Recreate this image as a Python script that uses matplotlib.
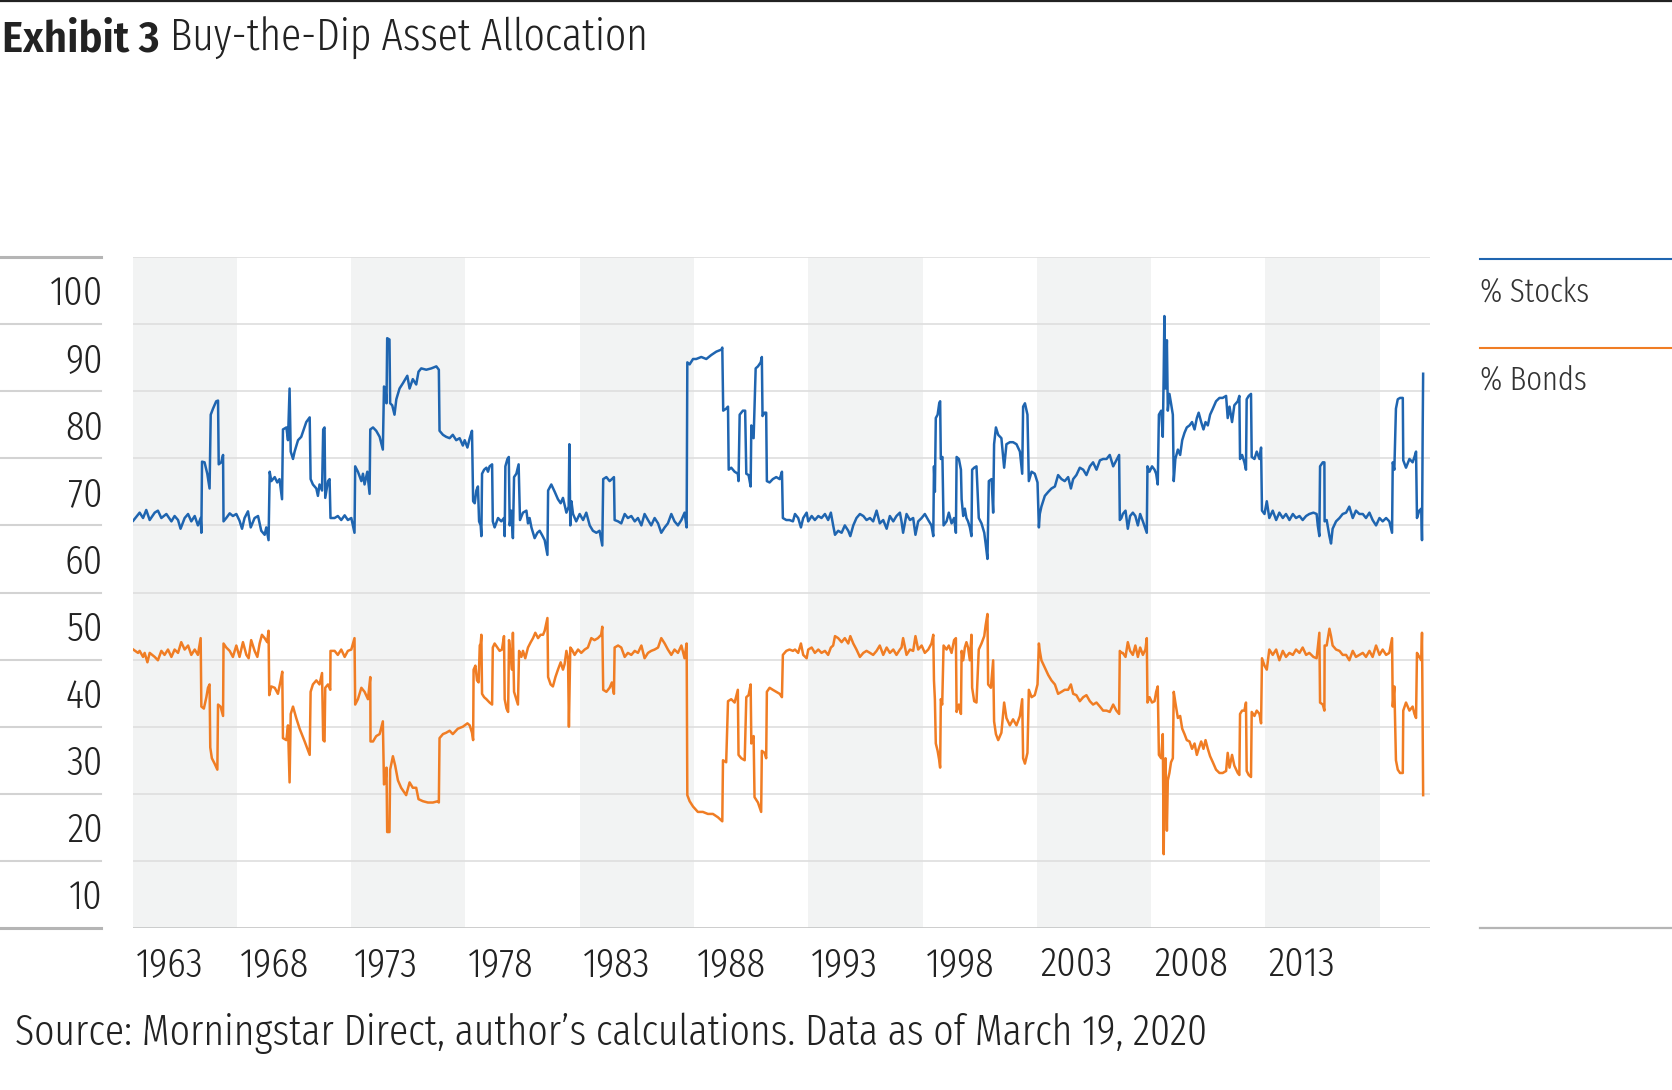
import matplotlib
matplotlib.use("Agg")
import matplotlib.pyplot as plt
from matplotlib import font_manager
from matplotlib.font_manager import FontProperties
from matplotlib.lines import Line2D
import matplotlib.transforms as mtransforms

# values (decimal years, % of portfolio)
stock_years = [
    1963.47, 1963.75, 1963.90, 1964.04, 1964.19, 1964.41, 1964.55, 1964.70, 1964.92, 1965.14,
    1965.28, 1965.43, 1965.54, 1965.72, 1965.87, 1966.01, 1966.16, 1966.30, 1966.42, 1966.45,
    1966.48, 1966.59, 1966.71, 1966.81, 1966.86, 1966.96, 1967.10, 1967.18, 1967.21, 1967.32,
    1967.40, 1967.42, 1967.54, 1967.69, 1967.83, 1967.98, 1968.12, 1968.23, 1968.34, 1968.49,
    1968.61, 1968.78, 1968.93, 1969.07, 1969.22, 1969.29, 1969.39, 1969.44, 1969.51, 1969.66,
    1969.77, 1969.87, 1969.98, 1970.02, 1970.17, 1970.24, 1970.31, 1970.36, 1970.46, 1970.53,
    1970.68, 1970.82, 1971.04, 1971.19, 1971.23, 1971.33, 1971.48, 1971.55, 1971.62, 1971.73,
    1971.78, 1971.84, 1971.87, 1971.99, 1972.06, 1972.10, 1972.28, 1972.42, 1972.57, 1972.72,
    1972.86, 1973.01, 1973.15, 1973.18, 1973.30, 1973.45, 1973.52, 1973.59, 1973.71, 1973.81,
    1973.84, 1973.96, 1974.10, 1974.25, 1974.39, 1974.44, 1974.51, 1974.55, 1974.58, 1974.68,
    1974.71, 1974.80, 1974.90, 1974.98, 1975.12, 1975.27, 1975.46, 1975.56, 1975.70, 1975.85,
    1975.95, 1976.07, 1976.29, 1976.51, 1976.73, 1976.84, 1976.87, 1977.02, 1977.16, 1977.31,
    1977.45, 1977.60, 1977.75, 1977.89, 1977.97, 1978.09, 1978.19, 1978.29, 1978.34, 1978.41,
    1978.48, 1978.55, 1978.60, 1978.67, 1978.70, 1978.73, 1978.82, 1978.92, 1978.99, 1979.06,
    1979.17, 1979.20, 1979.28, 1979.43, 1979.57, 1979.69, 1979.72, 1979.75, 1979.84, 1979.90,
    1979.94, 1980.01, 1980.06, 1980.08, 1980.13, 1980.23, 1980.33, 1980.39, 1980.52, 1980.67,
    1980.74, 1980.81, 1980.89, 1980.96, 1981.03, 1981.15, 1981.25, 1981.35, 1981.47, 1981.59,
    1981.62, 1981.76, 1981.91, 1982.05, 1982.17, 1982.27, 1982.42, 1982.52, 1982.55, 1982.59,
    1982.64, 1982.71, 1982.85, 1983.00, 1983.15, 1983.29, 1983.44, 1983.58, 1983.73, 1983.87,
    1983.99, 1984.03, 1984.17, 1984.31, 1984.41, 1984.50, 1984.53, 1984.68, 1984.82, 1984.97,
    1985.11, 1985.26, 1985.41, 1985.55, 1985.70, 1985.84, 1985.99, 1986.13, 1986.28, 1986.43,
    1986.57, 1986.72, 1986.86, 1987.01, 1987.15, 1987.30, 1987.45, 1987.59, 1987.68, 1987.71,
    1987.81, 1987.96, 1988.10, 1988.32, 1988.54, 1988.76, 1988.98, 1989.20, 1989.24, 1989.28,
    1989.41, 1989.49, 1989.52, 1989.63, 1989.78, 1989.92, 1989.95, 1990.00, 1990.14, 1990.24,
    1990.29, 1990.39, 1990.48, 1990.51, 1990.61, 1990.70, 1990.80, 1990.92, 1990.97, 1991.00,
    1991.09, 1991.16, 1991.19, 1991.31, 1991.45, 1991.60, 1991.75, 1991.85, 1991.89, 1992.04,
    1992.18, 1992.33, 1992.42, 1992.56, 1992.68, 1992.78, 1992.93, 1993.00, 1993.15, 1993.29,
    1993.44, 1993.58, 1993.73, 1993.87, 1993.99, 1994.09, 1994.17, 1994.31, 1994.46, 1994.60,
    1994.75, 1994.84, 1994.97, 1995.11, 1995.26, 1995.41, 1995.55, 1995.70, 1995.84, 1995.99,
    1996.13, 1996.28, 1996.43, 1996.57, 1996.72, 1996.86, 1997.01, 1997.08, 1997.15, 1997.30,
    1997.45, 1997.59, 1997.69, 1997.81, 1997.96, 1998.10, 1998.25, 1998.39, 1998.47, 1998.50,
    1998.54, 1998.58, 1998.66, 1998.73, 1998.77, 1998.80, 1998.87, 1998.92, 1999.05, 1999.15,
    1999.27, 1999.38, 1999.46, 1999.49, 1999.59, 1999.68, 1999.71, 1999.78, 1999.85, 1999.92,
    1999.99, 2000.07, 2000.14, 2000.17, 2000.26, 2000.36, 2000.41, 2000.46, 2000.58, 2000.70,
    2000.76, 2000.84, 2000.90, 2001.02, 2001.09, 2001.13, 2001.21, 2001.31, 2001.45, 2001.57,
    2001.67, 2001.82, 2001.96, 2002.11, 2002.26, 2002.36, 2002.40, 2002.48, 2002.59, 2002.65,
    2002.77, 2002.91, 2003.03, 2003.09, 2003.13, 2003.20, 2003.35, 2003.50, 2003.64, 2003.79,
    2003.93, 2004.08, 2004.22, 2004.37, 2004.49, 2004.59, 2004.73, 2004.88, 2005.03, 2005.17,
    2005.32, 2005.46, 2005.61, 2005.76, 2005.90, 2006.05, 2006.19, 2006.34, 2006.48, 2006.60,
    2006.63, 2006.70, 2006.76, 2006.88, 2006.98, 2007.08, 2007.20, 2007.31, 2007.42, 2007.52,
    2007.64, 2007.75, 2007.81, 2007.84, 2007.93, 2008.04, 2008.15, 2008.22, 2008.29, 2008.34,
    2008.44, 2008.51, 2008.55, 2008.58, 2008.63, 2008.69, 2008.73, 2008.80, 2008.87, 2008.95,
    2008.99, 2009.06, 2009.17, 2009.27, 2009.36, 2009.46, 2009.56, 2009.68, 2009.79, 2009.90,
    2010.00, 2010.08, 2010.19, 2010.29, 2010.38, 2010.48, 2010.58, 2010.70, 2010.84, 2010.99,
    2011.13, 2011.28, 2011.35, 2011.43, 2011.54, 2011.64, 2011.79, 2011.86, 2011.89, 2011.98,
    2012.08, 2012.15, 2012.18, 2012.27, 2012.37, 2012.40, 2012.52, 2012.62, 2012.74, 2012.81,
    2012.85, 2012.96, 2013.06, 2013.17, 2013.32, 2013.47, 2013.61, 2013.76, 2013.90, 2014.05,
    2014.20, 2014.34, 2014.49, 2014.63, 2014.78, 2014.92, 2015.10, 2015.24, 2015.29, 2015.36,
    2015.39, 2015.51, 2015.58, 2015.59, 2015.68, 2015.80, 2015.87, 2015.94, 2016.09, 2016.24,
    2016.38, 2016.53, 2016.67, 2016.82, 2016.96, 2017.11, 2017.26, 2017.40, 2017.55, 2017.69,
    2017.84, 2017.99, 2018.13, 2018.28, 2018.42, 2018.54, 2018.57, 2018.64, 2018.71, 2018.79,
    2018.89, 2019.01, 2019.03, 2019.15, 2019.30, 2019.44, 2019.52, 2019.59, 2019.63, 2019.73,
    2019.82, 2019.85, 2019.88, 2019.90,
]
stock_pct = [
    60.7, 61.9, 61.1, 62.3, 60.8, 61.9, 62.2, 61.1, 61.7, 60.6,
    61.4, 60.8, 59.5, 61.1, 61.7, 60.6, 61.4, 60.0, 61.1, 58.9,
    69.5, 69.4, 67.7, 65.5, 76.5, 77.4, 78.5, 78.6, 69.1, 69.4,
    70.5, 60.6, 61.1, 61.8, 61.4, 61.7, 60.7, 59.5, 61.1, 62.1,
    59.7, 61.1, 61.4, 59.2, 58.6, 59.7, 57.8, 68.0, 66.6, 67.2,
    66.4, 66.9, 63.9, 74.3, 74.6, 72.7, 80.4, 71.0, 69.9, 71.0,
    72.7, 73.2, 75.4, 76.1, 66.9, 66.1, 65.5, 64.4, 66.1, 65.2,
    74.3, 74.6, 64.1, 66.6, 66.9, 61.1, 61.1, 61.4, 60.8, 61.5,
    60.8, 61.1, 58.9, 68.8, 68.0, 66.6, 67.7, 66.1, 68.0, 64.7,
    74.3, 74.6, 74.1, 73.2, 71.3, 80.7, 80.1, 78.2, 87.9, 87.7,
    78.2, 77.9, 76.5, 78.8, 80.4, 81.2, 82.3, 80.4, 81.8, 81.0,
    82.9, 83.4, 83.2, 83.4, 83.7, 83.2, 74.1, 73.5, 73.2, 73.0,
    73.5, 72.7, 73.0, 71.9, 72.7, 71.6, 73.0, 74.1, 63.6, 63.3,
    65.2, 65.8, 60.6, 60.0, 58.4, 67.7, 68.3, 68.6, 68.0, 68.8,
    69.1, 60.6, 59.7, 61.1, 60.6, 61.1, 58.4, 68.8, 69.9, 70.2,
    60.0, 62.2, 59.2, 58.1, 67.2, 67.7, 69.1, 60.8, 61.9, 62.2,
    60.3, 61.1, 59.7, 58.9, 58.1, 58.9, 59.2, 58.6, 57.8, 55.6,
    65.2, 66.1, 65.0, 63.9, 63.3, 64.1, 61.9, 62.8, 72.1, 60.0,
    63.6, 61.7, 60.6, 61.7, 60.8, 61.9, 60.0, 59.2, 58.9, 59.2,
    57.0, 66.9, 67.2, 66.6, 66.9, 67.2, 60.8, 60.6, 60.3, 61.7,
    61.1, 61.4, 60.6, 61.1, 60.0, 61.7, 60.8, 60.0, 61.1, 60.3,
    58.9, 59.7, 60.3, 61.7, 60.6, 60.0, 60.8, 61.9, 59.7, 84.3,
    84.0, 84.8, 84.8, 85.1, 84.8, 85.4, 85.9, 86.2, 86.5, 77.1,
    77.4, 77.7, 68.3, 68.6, 68.0, 67.7, 66.6, 76.5, 77.1, 77.1,
    67.7, 67.5, 65.8, 74.9, 73.0, 83.4, 83.7, 84.3, 85.1, 76.3,
    76.8, 76.8, 66.6, 66.4, 66.9, 67.2, 66.9, 68.0, 61.1, 60.8,
    60.8, 60.6, 61.7, 61.1, 59.7, 61.1, 61.9, 60.6, 61.4, 60.8,
    61.4, 61.1, 61.7, 60.8, 61.9, 60.0, 58.6, 59.2, 58.9, 60.0,
    59.2, 58.4, 60.0, 61.1, 61.7, 61.4, 60.8, 61.1, 60.6, 62.2,
    60.3, 60.8, 59.5, 61.4, 60.6, 61.4, 61.9, 60.6, 58.9, 61.7,
    60.8, 61.1, 58.6, 60.6, 61.1, 61.7, 60.8, 60.0, 58.4, 68.8,
    65.0, 76.0, 76.5, 78.2, 78.5, 69.9, 70.2, 60.0, 60.6, 61.9,
    60.3, 61.1, 58.9, 70.2, 69.9, 68.3, 63.9, 61.4, 62.5, 61.1,
    60.6, 59.7, 58.4, 68.3, 68.6, 68.8, 65.0, 61.1, 60.3, 58.9,
    57.3, 55.0, 66.6, 66.9, 61.9, 72.1, 74.6, 73.5, 73.0, 68.6,
    72.1, 72.4, 72.4, 72.1, 71.0, 67.7, 77.7, 78.2, 76.5, 66.6,
    68.0, 67.7, 66.4, 59.7, 61.7, 62.8, 64.4, 65.0, 65.5, 65.8,
    67.5, 66.9, 66.6, 67.2, 65.5, 66.9, 67.5, 68.6, 68.3, 67.5,
    68.8, 69.4, 68.3, 69.7, 69.9, 69.9, 70.5, 68.8, 69.7, 70.5,
    60.8, 61.1, 61.7, 62.2, 59.5, 61.4, 61.9, 61.4, 60.0, 61.7,
    60.6, 59.5, 58.9, 68.8, 68.0, 68.8, 68.3, 67.7, 66.1, 76.5,
    77.1, 73.2, 82.6, 91.2, 80.4, 87.6, 77.1, 79.6, 78.2, 76.5,
    66.6, 69.9, 71.3, 70.5, 72.7, 73.8, 74.6, 74.9, 75.4, 74.3,
    76.0, 76.8, 75.4, 74.3, 75.4, 74.9, 76.5, 77.4, 78.5, 79.0,
    79.0, 79.3, 76.0, 77.7, 75.4, 77.9, 78.5, 79.3, 69.9, 70.5,
    69.4, 68.3, 78.8, 79.3, 79.6, 70.2, 69.9, 71.0, 69.9, 71.6,
    62.2, 61.7, 63.6, 61.1, 62.2, 60.8, 61.9, 61.1, 61.7, 60.8,
    61.7, 61.1, 61.4, 60.8, 61.4, 61.7, 61.9, 61.7, 60.0, 58.4,
    68.8, 69.4, 69.4, 60.6, 60.8, 58.4, 57.3, 59.5, 60.6, 61.1,
    61.7, 61.9, 62.8, 61.1, 62.2, 61.7, 61.7, 61.1, 61.9, 60.8,
    60.0, 61.1, 60.6, 61.1, 60.6, 58.9, 69.4, 68.3, 77.4, 78.8,
    79.0, 79.0, 69.7, 68.6, 69.9, 69.4, 70.2, 71.0, 61.1, 62.2,
    62.5, 57.8, 74.3, 82.6,
]

bond_years = [
    1963.47, 1963.68, 1963.75, 1963.90, 1963.97, 1964.09, 1964.19, 1964.41, 1964.55, 1964.70,
    1964.84, 1964.99, 1965.14, 1965.28, 1965.43, 1965.57, 1965.72, 1965.87, 1966.01, 1966.16,
    1966.30, 1966.42, 1966.45, 1966.56, 1966.67, 1966.74, 1966.81, 1966.84, 1966.91, 1967.03,
    1967.15, 1967.18, 1967.29, 1967.40, 1967.42, 1967.54, 1967.69, 1967.83, 1967.98, 1968.12,
    1968.27, 1968.42, 1968.52, 1968.63, 1968.78, 1968.90, 1969.00, 1969.10, 1969.22, 1969.33,
    1969.39, 1969.42, 1969.51, 1969.66, 1969.80, 1969.92, 1969.99, 1970.02, 1970.17, 1970.24,
    1970.31, 1970.36, 1970.46, 1970.60, 1970.75, 1970.97, 1971.19, 1971.23, 1971.33, 1971.48,
    1971.62, 1971.73, 1971.78, 1971.84, 1971.87, 1971.99, 1972.09, 1972.10, 1972.28, 1972.42,
    1972.57, 1972.72, 1972.86, 1973.01, 1973.15, 1973.18, 1973.30, 1973.45, 1973.59, 1973.74,
    1973.84, 1973.85, 1973.96, 1974.10, 1974.25, 1974.39, 1974.44, 1974.51, 1974.55, 1974.58,
    1974.68, 1974.71, 1974.83, 1974.93, 1975.05, 1975.19, 1975.41, 1975.56, 1975.70, 1975.85,
    1975.95, 1976.14, 1976.36, 1976.58, 1976.80, 1976.84, 1976.87, 1977.02, 1977.16, 1977.31,
    1977.45, 1977.67, 1977.89, 1977.97, 1978.09, 1978.19, 1978.29, 1978.34, 1978.36, 1978.44,
    1978.51, 1978.58, 1978.63, 1978.67, 1978.70, 1978.73, 1978.82, 1978.92, 1979.06, 1979.17,
    1979.20, 1979.28, 1979.40, 1979.50, 1979.60, 1979.69, 1979.72, 1979.80, 1979.87, 1979.91,
    1979.98, 1980.04, 1980.08, 1980.13, 1980.23, 1980.30, 1980.35, 1980.45, 1980.52, 1980.62,
    1980.74, 1980.86, 1980.96, 1981.06, 1981.18, 1981.29, 1981.40, 1981.47, 1981.59, 1981.62,
    1981.73, 1981.83, 1981.94, 1982.05, 1982.17, 1982.27, 1982.34, 1982.42, 1982.49, 1982.53,
    1982.59, 1982.66, 1982.78, 1982.93, 1983.07, 1983.22, 1983.36, 1983.51, 1983.65, 1983.80,
    1983.94, 1983.99, 1984.03, 1984.17, 1984.31, 1984.41, 1984.50, 1984.53, 1984.68, 1984.82,
    1984.97, 1985.11, 1985.26, 1985.41, 1985.55, 1985.70, 1985.84, 1985.99, 1986.13, 1986.28,
    1986.43, 1986.57, 1986.72, 1986.86, 1987.01, 1987.15, 1987.30, 1987.45, 1987.59, 1987.68,
    1987.71, 1987.81, 1987.96, 1988.17, 1988.39, 1988.61, 1988.83, 1989.05, 1989.24, 1989.27,
    1989.41, 1989.49, 1989.63, 1989.78, 1989.92, 1989.95, 1990.07, 1990.22, 1990.29, 1990.39,
    1990.48, 1990.51, 1990.61, 1990.65, 1990.80, 1990.94, 1990.97, 1991.09, 1991.16, 1991.19,
    1991.31, 1991.45, 1991.60, 1991.75, 1991.85, 1991.89, 1992.04, 1992.18, 1992.33, 1992.42,
    1992.56, 1992.68, 1992.78, 1992.93, 1993.00, 1993.15, 1993.29, 1993.44, 1993.58, 1993.73,
    1993.87, 1993.99, 1994.09, 1994.17, 1994.31, 1994.46, 1994.60, 1994.75, 1994.84, 1994.97,
    1995.11, 1995.26, 1995.41, 1995.55, 1995.70, 1995.84, 1995.99, 1996.13, 1996.28, 1996.43,
    1996.57, 1996.72, 1996.86, 1997.01, 1997.08, 1997.15, 1997.30, 1997.45, 1997.59, 1997.69,
    1997.81, 1997.96, 1998.10, 1998.25, 1998.39, 1998.47, 1998.50, 1998.54, 1998.58, 1998.66,
    1998.73, 1998.77, 1998.80, 1998.86, 1998.92, 1999.05, 1999.15, 1999.27, 1999.38, 1999.46,
    1999.49, 1999.59, 1999.68, 1999.71, 1999.78, 1999.85, 1999.92, 1999.99, 2000.07, 2000.14,
    2000.17, 2000.26, 2000.36, 2000.41, 2000.46, 2000.58, 2000.70, 2000.76, 2000.84, 2000.87,
    2000.99, 2001.09, 2001.13, 2001.21, 2001.31, 2001.45, 2001.57, 2001.67, 2001.82, 2001.96,
    2002.11, 2002.26, 2002.36, 2002.40, 2002.48, 2002.59, 2002.65, 2002.77, 2002.91, 2003.03,
    2003.09, 2003.13, 2003.20, 2003.35, 2003.50, 2003.64, 2003.79, 2003.93, 2004.08, 2004.22,
    2004.37, 2004.49, 2004.59, 2004.73, 2004.88, 2005.03, 2005.17, 2005.32, 2005.46, 2005.61,
    2005.76, 2005.90, 2006.05, 2006.19, 2006.34, 2006.48, 2006.60, 2006.63, 2006.70, 2006.76,
    2006.88, 2006.98, 2007.08, 2007.20, 2007.31, 2007.42, 2007.52, 2007.64, 2007.75, 2007.81,
    2007.84, 2007.93, 2008.04, 2008.15, 2008.22, 2008.29, 2008.34, 2008.44, 2008.51, 2008.55,
    2008.58, 2008.63, 2008.69, 2008.73, 2008.80, 2008.87, 2008.95, 2008.99, 2009.06, 2009.17,
    2009.27, 2009.36, 2009.46, 2009.56, 2009.68, 2009.79, 2009.90, 2010.00, 2010.08, 2010.19,
    2010.29, 2010.38, 2010.48, 2010.58, 2010.70, 2010.84, 2010.99, 2011.13, 2011.28, 2011.35,
    2011.43, 2011.54, 2011.64, 2011.79, 2011.86, 2011.89, 2011.98, 2012.08, 2012.15, 2012.18,
    2012.27, 2012.37, 2012.40, 2012.52, 2012.62, 2012.74, 2012.81, 2012.85, 2012.96, 2013.06,
    2013.17, 2013.32, 2013.47, 2013.61, 2013.76, 2013.90, 2014.05, 2014.20, 2014.34, 2014.49,
    2014.63, 2014.78, 2014.92, 2015.10, 2015.24, 2015.29, 2015.36, 2015.39, 2015.51, 2015.58,
    2015.59, 2015.68, 2015.80, 2015.87, 2015.94, 2016.09, 2016.24, 2016.38, 2016.53, 2016.67,
    2016.82, 2016.96, 2017.11, 2017.26, 2017.40, 2017.55, 2017.69, 2017.84, 2017.99, 2018.13,
    2018.28, 2018.42, 2018.54, 2018.57, 2018.64, 2018.71, 2018.79, 2018.89, 2019.01, 2019.03,
    2019.15, 2019.30, 2019.44, 2019.52, 2019.59, 2019.63, 2019.73, 2019.82, 2019.85, 2019.88,
    2019.90,
]
bond_pct = [
    41.5, 41.0, 41.3, 40.4, 41.0, 39.6, 41.0, 40.4, 39.9, 41.3,
    40.7, 41.5, 40.4, 41.5, 41.0, 42.6, 41.5, 42.1, 40.7, 41.5,
    40.7, 43.2, 33.0, 32.7, 34.4, 35.8, 36.3, 26.9, 25.3, 24.5,
    23.6, 33.3, 33.0, 31.6, 42.4, 41.8, 41.3, 40.4, 42.1, 40.4,
    42.6, 40.7, 40.2, 42.9, 41.3, 40.4, 42.4, 43.7, 43.2, 42.6,
    44.3, 34.7, 36.0, 35.8, 34.9, 36.9, 38.2, 28.3, 28.0, 30.2,
    21.7, 31.9, 33.0, 31.3, 29.7, 27.8, 25.8, 35.2, 36.3, 36.9,
    36.3, 38.0, 28.0, 27.8, 35.8, 36.3, 35.5, 41.3, 41.3, 40.7,
    41.5, 40.4, 41.3, 41.5, 43.2, 33.3, 34.1, 35.8, 35.2, 34.1,
    37.4, 27.8, 27.8, 28.6, 28.9, 30.8, 21.4, 22.0, 23.9, 14.3,
    14.3, 23.6, 25.6, 24.2, 22.0, 20.9, 19.8, 21.7, 20.9, 20.9,
    19.2, 18.9, 18.7, 18.7, 18.9, 18.7, 28.3, 28.9, 29.1, 29.4,
    28.9, 29.7, 30.0, 30.2, 30.5, 30.2, 29.1, 28.0, 38.5, 39.1,
    36.9, 36.6, 42.1, 42.4, 43.7, 34.9, 34.4, 34.1, 33.6, 33.3,
    41.8, 42.4, 41.8, 41.3, 41.5, 43.5, 34.1, 32.7, 32.2, 42.9,
    40.7, 38.5, 44.0, 35.2, 34.1, 33.3, 41.3, 40.4, 41.3, 40.2,
    41.8, 42.6, 43.2, 44.0, 43.2, 43.7, 43.7, 44.3, 46.2, 37.4,
    36.3, 36.0, 37.4, 38.5, 39.6, 38.5, 39.3, 41.3, 40.2, 30.0,
    41.8, 41.5, 40.7, 41.5, 41.0, 41.5, 41.8, 43.2, 42.9, 43.2,
    43.7, 44.9, 35.5, 35.2, 35.8, 36.6, 34.9, 41.8, 42.1, 41.8,
    40.4, 41.0, 40.7, 41.3, 41.0, 42.1, 40.2, 41.0, 41.3, 41.5,
    41.8, 43.2, 42.4, 41.5, 40.7, 41.5, 41.0, 42.1, 40.2, 42.4,
    19.8, 18.9, 18.1, 17.3, 17.3, 17.0, 17.0, 16.5, 15.9, 25.0,
    24.7, 33.8, 34.1, 33.6, 35.5, 25.8, 25.3, 25.0, 34.4, 34.7,
    36.3, 27.5, 28.6, 19.5, 18.7, 17.3, 26.4, 26.1, 25.3, 35.2,
    35.8, 35.5, 35.2, 34.9, 34.4, 40.7, 41.3, 41.5, 41.3, 41.5,
    41.0, 42.4, 40.7, 40.2, 41.5, 41.8, 41.0, 41.5, 41.0, 41.3,
    40.7, 41.8, 42.1, 43.5, 43.2, 42.6, 43.2, 42.4, 43.5, 42.4,
    41.5, 40.4, 41.0, 41.3, 41.0, 40.7, 41.3, 42.1, 40.7, 41.8,
    41.0, 41.5, 40.7, 41.5, 41.8, 43.2, 40.7, 41.5, 41.3, 43.5,
    41.5, 42.1, 41.0, 41.5, 42.4, 43.7, 36.9, 34.1, 27.5, 26.4,
    25.0, 23.9, 34.1, 33.3, 42.1, 41.5, 42.1, 41.0, 42.9, 43.2,
    32.2, 33.3, 31.9, 41.3, 39.9, 41.8, 42.6, 41.8, 39.9, 43.7,
    35.8, 33.8, 33.6, 37.7, 41.5, 42.4, 43.5, 45.1, 46.8, 36.3,
    35.8, 39.9, 30.8, 28.9, 28.0, 29.1, 33.6, 31.3, 30.2, 31.1,
    30.2, 31.6, 34.1, 25.3, 24.5, 26.1, 35.5, 34.4, 34.7, 36.3,
    42.4, 41.3, 39.9, 38.8, 37.7, 36.9, 36.3, 34.9, 35.2, 35.5,
    35.5, 36.3, 34.9, 34.7, 33.8, 34.4, 34.7, 33.8, 33.3, 33.6,
    33.0, 32.4, 32.4, 32.2, 33.3, 32.4, 31.9, 41.3, 41.0, 41.0,
    40.4, 42.6, 41.3, 40.7, 42.1, 40.4, 41.8, 40.7, 41.5, 43.2,
    33.6, 34.4, 33.6, 33.8, 35.2, 36.0, 25.8, 25.3, 28.9, 11.0,
    22.0, 25.3, 14.5, 22.0, 23.1, 24.7, 25.3, 35.2, 33.6, 31.3,
    31.6, 29.7, 28.9, 28.0, 27.8, 26.7, 27.5, 25.8, 26.7, 27.8,
    26.7, 28.0, 26.7, 25.6, 24.7, 23.6, 23.1, 23.1, 23.4, 26.1,
    23.9, 25.8, 24.2, 23.1, 22.8, 31.9, 32.4, 32.4, 33.6, 23.4,
    22.8, 22.5, 32.2, 31.6, 32.4, 31.9, 30.5, 40.2, 39.1, 38.5,
    41.5, 40.7, 41.5, 39.9, 41.3, 40.4, 41.0, 40.7, 41.5, 41.0,
    41.8, 40.7, 41.0, 40.4, 40.2, 41.8, 44.0, 33.6, 33.3, 32.4,
    42.1, 42.1, 44.6, 43.5, 42.1, 41.5, 41.3, 40.7, 40.7, 39.9,
    41.3, 40.4, 40.7, 41.0, 40.4, 41.3, 40.4, 42.1, 40.7, 41.5,
    40.7, 41.0, 43.2, 33.0, 36.0, 25.0, 23.6, 23.1, 23.1, 32.4,
    33.6, 32.4, 33.0, 31.9, 31.3, 41.0, 40.4, 39.9, 44.0, 30.2,
    19.8,
]

# shaded five-year blocks and axis labels
shade_blocks = [(1963, 1968), (1973, 1978), (1983, 1988), (1993, 1998), (2003, 2008), (2013, 2018)]
x_start, x_end = 1963.46, 2020.2
year_ticks = [1963.46, 1968, 1973, 1978, 1983, 1988, 1993, 1998, 2003, 2008, 2013]
year_labels = ["1963", "1968", "1973", "1978", "1983", "1988", "1993", "1998", "2003", "2008", "2013"]
pct_lines = [0, 10, 20, 30, 40, 50, 60, 70, 80, 90, 100]
pct_labels = [10, 20, 30, 40, 50, 60, 70, 80, 90, 100]

BLUE = "#1f65b0"
ORANGE = "#f07d24"
TEXT = "#222222"

font_files = {f.fname.split("/")[-1]: f.fname for f in font_manager.fontManager.ttflist}


def font(size, *names):
    # first installed file from the list, else plain Roboto
    for n in names:
        if n in font_files:
            return FontProperties(fname=font_files[n], size=size)
    return FontProperties(family="Roboto", size=size)


def light_font(size):
    return font(size, "FiraSansExtraCondensed-Light.ttf", "OpenSans-CondLight.ttf",
                "IBMPlexSansCondensed-Light.ttf")


def bold_font(size):
    return font(size, "FiraSansCondensed-SemiBold.ttf", "FiraSansCondensed-Bold.ttf",
                "IBMPlexSansCondensed-SemiBold.ttf")


W, H = 1672, 1090
fig = plt.figure(figsize=(W / 100, H / 100), dpi=100)
ax = fig.add_axes([133 / W, 1 - 928 / H, 1297 / W, 671 / H])
ax.set_xlim(x_start, x_end)
ax.set_ylim(0, 100)
ax.axis("off")

for a, b in shade_blocks:
    ax.axvspan(a, b, color="#f2f3f3", lw=0, zorder=0)
for v in pct_lines:
    ax.axhline(v, color="#c9c9c9" if v == 0 else "#e0e0e0", lw=1.3, zorder=1)

ax.plot(bond_years, bond_pct, color=ORANGE, lw=1.8, zorder=3)
ax.plot(stock_years, stock_pct, color=BLUE, lw=1.8, zorder=3)

# y labels sit between the grid lines, with short rules on the far left
ytrans = ax.get_yaxis_transform()
for v in pct_lines:
    edge = v in (0, 100)
    ax.plot([-133 / 1297, -32 / 1297], [v, v], transform=ytrans, clip_on=False,
            color="#b5b5b5" if edge else "#d3d3d3", lw=2.2 if edge else 1.5)
for v in pct_labels:
    ax.text(-30 / 1297, v - 7.2, str(v), transform=ytrans, ha="right", va="baseline",
            fontproperties=light_font(30), color=TEXT)

xtrans = mtransforms.offset_copy(ax.get_xaxis_transform(), fig=fig, x=3, y=0, units="dots")
for yr, lbl in zip(year_ticks, year_labels):
    ax.text(yr, -0.0715, lbl, transform=xtrans, ha="left", va="baseline",
            fontproperties=light_font(30), color=TEXT)

# legend on the right
fig.add_artist(Line2D([1480 / W, 1], [1 - 259 / H] * 2, color=BLUE, lw=1.5))
fig.add_artist(Line2D([1480 / W, 1], [1 - 348 / H] * 2, color=ORANGE, lw=1.5))
fig.add_artist(Line2D([1480 / W, 1], [1 - 928 / H] * 2, color="#b5b5b5", lw=1.6))
fig.text(1480 / W, 1 - 302 / H, "% Stocks", fontproperties=light_font(24), color="#333333", va="baseline")
fig.text(1480 / W, 1 - 390 / H, "% Bonds", fontproperties=light_font(24), color="#333333", va="baseline")

# top rule and title
fig.add_artist(Line2D([0, 1], [1 - 1.2 / H] * 2, color="#222222", lw=1.6))
t1 = fig.text(2 / W, 1 - 51 / H, "Exhibit 3", fontproperties=bold_font(32),
              color=TEXT, va="baseline")
fig.canvas.draw()
bb = t1.get_window_extent()
fig.text((bb.x1 + 10) / W, 1 - 51 / H, "Buy-the-Dip Asset Allocation",
         fontproperties=light_font(32.5), color=TEXT, va="baseline")

fig.text(15 / W, 1 - 1045 / H, "Source: Morningstar Direct, author\u2019s calculations. Data as of March 19, 2020",
         fontproperties=light_font(31), color=TEXT, va="baseline")

fig.savefig("out.png", dpi=100)
